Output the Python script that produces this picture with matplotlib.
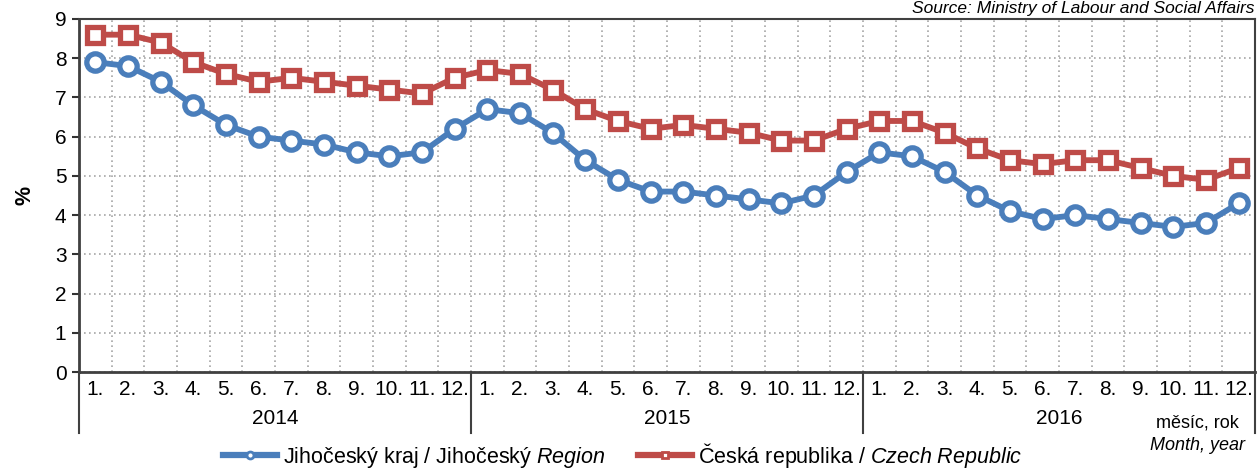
import matplotlib
matplotlib.use('Agg')
import matplotlib.pyplot as plt
from matplotlib.lines import Line2D
import numpy as np

plt.rcParams['font.family'] = ['Liberation Sans', 'DejaVu Sans']
plt.rcParams['mathtext.fontset'] = 'custom'
plt.rcParams['mathtext.rm'] = 'Liberation Sans'
plt.rcParams['mathtext.it'] = 'Liberation Sans:italic'

years = ['2014', '2015', '2016']
months = ['1.', '2.', '3.', '4.', '5.', '6.', '7.', '8.', '9.', '10.', '11.', '12.']

jihocesky = [7.9, 7.8, 7.4, 6.8, 6.3, 6.0, 5.9, 5.8, 5.6, 5.5, 5.6, 6.2,
             6.7, 6.6, 6.1, 5.4, 4.9, 4.6, 4.6, 4.5, 4.4, 4.3, 4.5, 5.1,
             5.6, 5.5, 5.1, 4.5, 4.1, 3.9, 4.0, 3.9, 3.8, 3.7, 3.8, 4.3]
cr = [8.6, 8.6, 8.4, 7.9, 7.6, 7.4, 7.5, 7.4, 7.3, 7.2, 7.1, 7.5,
      7.7, 7.6, 7.2, 6.7, 6.4, 6.2, 6.3, 6.2, 6.1, 5.9, 5.9, 6.2,
      6.4, 6.4, 6.1, 5.7, 5.4, 5.3, 5.4, 5.4, 5.2, 5.0, 4.9, 5.2]

blue = '#4A7EBB'
red = '#BE4B48'

fig = plt.figure(figsize=(12.57, 4.68), dpi=100)
ax = fig.add_axes([79/1257, 1 - 372/468, 1176/1257, 353/468])

x = np.arange(len(jihocesky))
ax.plot(x, jihocesky, color=blue, lw=4.2, marker='o', ms=12.5, mfc='white',
        mec=blue, mew=3.8, zorder=3, clip_on=False)
ax.plot(x, cr, color=red, lw=4.2, marker='s', ms=11.5, mfc='white',
        mec=red, mew=3.8, zorder=3, clip_on=False)

ax.set_xlim(-0.5, len(x) - 0.5)
ax.set_ylim(0, 9)
ax.set_yticks(range(10))
ax.tick_params(axis='y', labelsize=15, length=5, width=1.5, color='#333333', pad=4)
ax.set_xticks(x)
ax.set_xticklabels(months * len(years), fontsize=15)
ax.tick_params(axis='x', length=0, pad=6)
ax.set_xticks(np.arange(-0.5, len(x), 1), minor=True)
ax.tick_params(axis='x', which='minor', length=0)
ax.grid(True, which='minor', axis='x', color='#A6A6A6', ls=(0, (1, 2)), lw=1.2)
ax.grid(True, which='major', axis='y', color='#A6A6A6', ls=(0, (1, 2)), lw=1.2)
ax.grid(False, which='major', axis='x')

for side in ['left', 'bottom']:
    ax.spines[side].set_linewidth(2)
    ax.spines[side].set_color('#404040')
for side in ['top', 'right']:
    ax.spines[side].set_linewidth(1.5)
    ax.spines[side].set_color('#404040')

ax.set_ylabel('%', fontsize=15.5, fontweight='bold', labelpad=14)

# year separators and labels
trans = ax.get_xaxis_transform()
for k in range(len(years) + 1):
    ax.plot([k * 12 - 0.5] * 2, [0, -61/353], transform=trans, color='#404040',
            lw=1.5, clip_on=False)
for k, yr in enumerate(years):
    ax.text(k * 12 + 5.5, -47/353, yr, transform=trans, ha='center',
            va='center', fontsize=15)

fig.text(1197/1257, 1 - 423/468, 'měsíc, rok', ha='center', va='center', fontsize=13)
fig.text(1197/1257, 1 - 446/468, 'Month, year', ha='center', va='center',
         fontsize=13, style='italic')
fig.text(1254/1257, 1 - 1/468, 'Source: Ministry of Labour and Social Affairs',
         ha='right', va='top', fontsize=12.5, style='italic')

handles = [Line2D([], [], color=blue, lw=4.5, marker='o', ms=5, mfc='white', mec=blue, mew=2),
           Line2D([], [], color=red, lw=4.5, marker='s', ms=5, mfc='white', mec=red, mew=2)]
labels = ['Jihočeský kraj / Jihočeský $\\it{Region}$',
          'Česká republika / $\\it{Czech\\ Republic}$']
fig.legend(handles, labels, loc='center', bbox_to_anchor=(623/1257, 1 - 455/468),
           ncol=2, frameon=False, fontsize=15.5, handlelength=2.5, handletextpad=0.3,
           columnspacing=1.5, borderpad=0)

fig.savefig('out.png', dpi=100)
